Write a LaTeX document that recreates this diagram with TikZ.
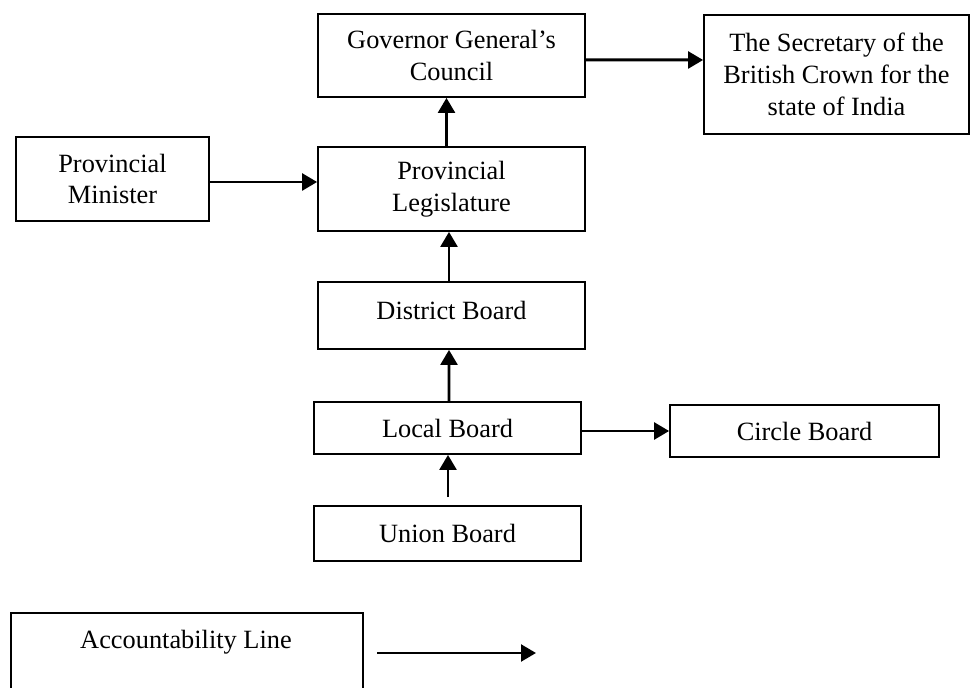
\documentclass[tikz,border=0pt]{standalone}
\usepackage{fontspec}
\setmainfont{Liberation Serif}
\usetikzlibrary{calc,arrows.meta}
\tikzset{
	box/.style={draw, line width=1pt, inner sep=0pt, align=center, minimum width=5.34cm, font=\fontsize{15}{18.2}\selectfont},
	tip/.style={line width=1.7pt, -{Triangle[length=8.5pt, width=9.5pt]}}
}

\begin{document}
\begin{tikzpicture}[x=0.02cm, y=-0.02cm]
		%%%%% START %%%%%
		\useasboundingbox (0, 0) rectangle (970, 688);
		
		\node[box, minimum height=1.66cm] (council) at (451.5, 55.5) {Governor General's\\Council};
		\node[box, minimum width=5.3cm, minimum height=2.38cm] (secretary) at (836.5, 74.5) {The Secretary of the\\British Crown for the\\state of India};
		\node[box, minimum width=3.86cm, minimum height=1.68cm] (minister) at (112.5, 179) {Provincial\\Minister};
		\node[box, minimum height=1.68cm] (legislature) at (451.5, 189) {Provincial\\Legislature};
		\node[box, minimum height=1.34cm, text depth=0.2cm] (district) at (451.5, 315.5) {District Board};
		\node[box, minimum height=1.04cm] (local) at (447.5, 428) {Local Board};
		\node[box, minimum width=5.38cm, minimum height=1.04cm] (circle) at (804.5, 431) {Circle Board};
		\node[box, minimum height=1.1cm] (union) at (447.5, 533.5) {Union Board};
		
		\draw[tip] ($(council.east)+(0, 4.5)$) -- ($(secretary.west)+(0, -14.5)$);
		\draw[tip] ($(legislature.north)+(-5, 0)$) -- ($(council.south)+(-5, 0)$);
		\draw[tip] ($(minister.east)+(0, 3)$) -- ($(legislature.west)+(0, -7)$);
		\draw[tip] ($(district.north)+(-2.5, 0)$) -- ($(legislature.south)+(-2.5, 0)$);
		\draw[tip] ($(local.north)+(1.5, 0)$) -- ($(district.south)+(-2.5, 0)$);
		\draw[tip] ($(local.east)+(0, 3)$) -- (circle.west);
		\draw[tip] ($(union.north)+(0.5, -8)$) -- ($(local.south)+(0.5, 0)$);
		
		% legend
		\node[box, minimum width=7.04cm, minimum height=1.76cm, anchor=north west] (legend) at (10, 612) {};
		\node[font=\fontsize{15}{18.2}\selectfont] (legendtext) at (186, 642) {Accountability Line};
		\coordinate (legendfrom) at (377, 653);
		\coordinate (legendto) at (536, 653);
		\draw[tip] (legendfrom) -- (legendto);
		
		%%%%% END %%%%%
	\end{tikzpicture}
\end{document}
